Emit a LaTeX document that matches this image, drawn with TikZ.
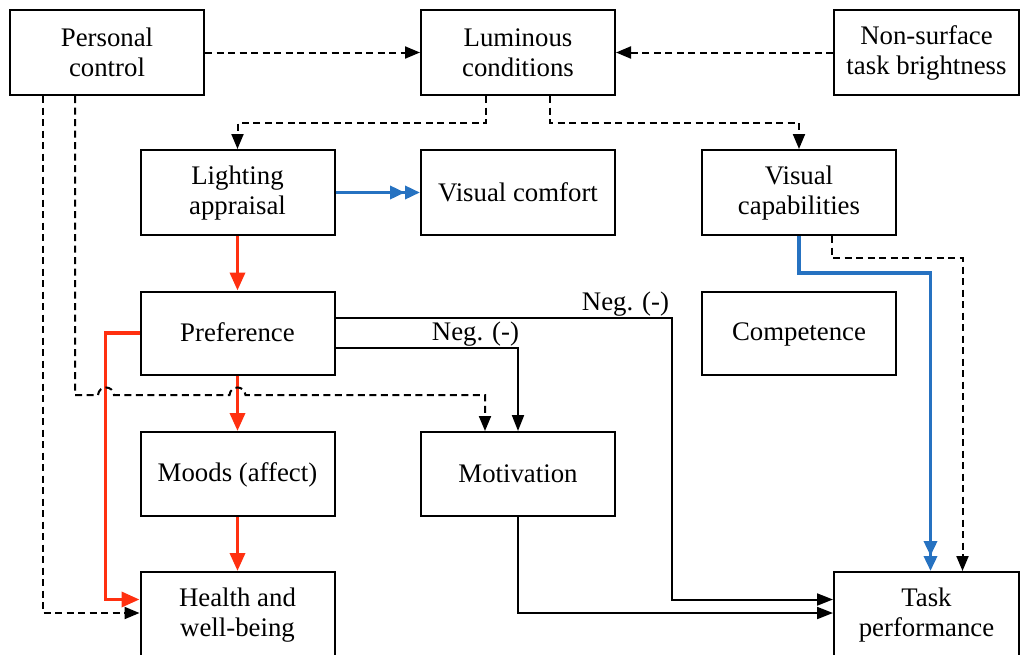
\documentclass[tikz,border=0pt]{standalone}
\usepackage{fontspec}
\setmainfont{Liberation Serif}
\usetikzlibrary{arrows.meta}
\usetikzlibrary{calc}
\definecolor{red1}{RGB}{255, 48, 16}
\definecolor{blue1}{RGB}{38, 114, 193}
\newcommand{\ls}{\rule[-3pt]{0pt}{23pt}}

\begin{document}
\begin{tikzpicture}[x=1pt, y=-1pt, line width=2pt,
  box/.style={draw, rectangle, minimum width=194pt, minimum height=85pt, inner sep=0pt, align=center, font=\fontsize{26.8}{30}\selectfont},
  dep/.style={dash pattern=on 7pt off 4.5pt, -{Triangle[length=15pt,width=12pt]}},
  neg/.style={-{Triangle[length=16pt,width=12pt]}},
  rd/.style={red1, line width=3.5pt, -{Triangle[length=18pt,width=15pt]}},
  bl/.style={blue1, line width=3.5pt, -{Triangle[length=15pt,width=13pt]Triangle[length=15pt,width=13pt]}},
  lbl/.style={font=\fontsize{26.8}{30}\selectfont, inner sep=1pt}]
  \useasboundingbox (0,0) rectangle (1021,654);
  \clip (0,0) rectangle (1021,654);

  \node[box] (pc) at (107,52.5) {\ls Personal\\\ls control};
  \node[box] (lum) at (518,52.5) {\ls Luminous\\\ls conditions};
  \node[box, minimum width=185pt] (nst) at (926.5,52.5) {\ls Non-surface\\\ls task brightness};

  \node[box] (la) at (237.5,192.5) {\ls Lighting\\\ls appraisal};
  \node[box] (vcom) at (518,192.5) {\ls Visual comfort};
  \node[box] (vcap) at (799,192.5) {\ls Visual\\\ls capabilities};

  \node[box, minimum height=83pt] (pref) at (237.5,333) {\ls Preference};
  \node[box, minimum height=83pt] (comp) at (799,333) {\ls Competence};

  \node[box, minimum height=84pt] (mood) at (237.5,474) {\ls Moods (affect)};
  \node[box, minimum height=84pt] (mot) at (518,474) {\ls Motivation};

  \node[box] (hw) at (237.5,614.5) {\ls Health and\\\ls well-being};
  \node[box, minimum width=185pt] (tp) at (926.5,614.5) {\ls Task\\\ls performance};

  % luminous conditions
  \draw[dep] (pc.east) -- (lum.west);
  \draw[dep] (nst.west) -- (lum.east);
  \draw[dep] ($(lum.south)+(-32,0)$) -- ++(0,27) -| (la.north);
  \draw[dep] ($(lum.south)+(32,0)$) -- ++(0,27) -| (vcap.north);

  % appraisal chain
  \draw[bl] (la.east) -- (vcom.west);
  \foreach \from/\to in {la/pref, pref/mood, mood/hw}
    \draw[rd] (\from.south) -- (\to.north);
  \draw[rd] (pref.west) -- ++(-34,0) |- ($(hw.west)+(0,-15)$);

  % personal control
  \draw[dep] ($(pc.south)+(-64,0)$) |- ($(hw.west)+(0,-1.5)$);
  \draw[dep] ($(pc.south)+(-32,0)$) -- (75,395) -- (98,395)
    .. controls (99,385) and (113,385) .. (114,395) -- (229.5,395)
    .. controls (230.5,385) and (244.5,385) .. (245.5,395) -| ($(mot.north)+(-33,0)$);

  % task performance
  \draw[neg] ($(pref.east)+(0,15)$) -| node[lbl, pos=.5, anchor=south east, xshift=3pt] {Neg. (-)} (mot.north);
  \draw[neg] ($(pref.east)+(0,-15)$) -| node[lbl, pos=.5, anchor=south east, xshift=-1pt] {Neg. (-)} ($(tp.west)+(-161,-15)$) -- ($(tp.west)+(0,-15)$);
  \draw[neg] (mot.south) |- ($(tp.west)+(0,-1.5)$);
  \draw[bl] (vcap.south) -- ++(0,37) -| ($(tp.north)+(4,0)$);
  \draw[dep] ($(vcap.south)+(33,0)$) -- ++(0,22) -| ($(tp.north)+(36,0)$);
\end{tikzpicture}
\end{document}
